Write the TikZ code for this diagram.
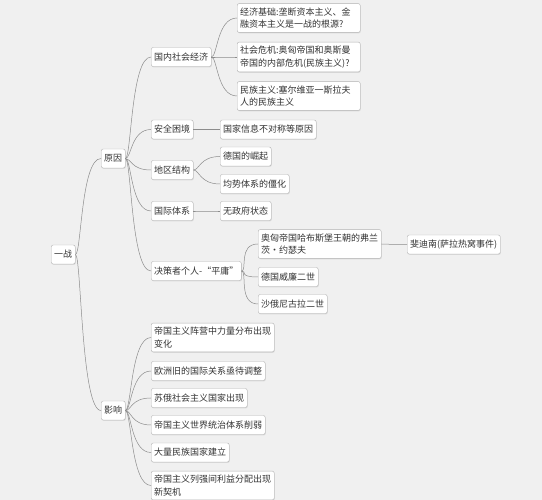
\documentclass[tikz,border=0pt]{standalone}
\usepackage{fontspec}
\setmainfont{Noto Sans CJK SC}
\usetikzlibrary{shadows}
\definecolor{bgcol}{RGB}{240,240,240}

\begin{document}
\begin{tikzpicture}[x=1pt,y=-1pt,
    box/.style={draw=black!30,fill=white,rounded corners=2pt,anchor=west,
      inner xsep=3pt,inner ysep=4pt,minimum height=19pt,align=left,
      font=\fontsize{9}{12.5}\selectfont,text=black!80,
      drop shadow={opacity=0.18,shadow xshift=0.6pt,shadow yshift=-0.9pt}},
    wide/.style={box,text width=117pt},
    link/.style={draw=black!45,line width=0.5pt,
      to path={.. controls +(6,0) and +(-20,0) .. (\tikztotarget)}}]
  \fill[bgcol] (0,0) rectangle (542,500);
  \useasboundingbox (0,0) rectangle (542,500);

  % root and main branches
  \node[box] (war) at (51,254.5) {一战};
  \node[box] (cause) at (101,158.5) {原因};
  \node[box] (effect) at (101,410.5) {影响};

  % causes
  \node[box] (domestic) at (151,57) {国内社会经济};
  \node[box] (security) at (151,129.5) {安全困境};
  \node[box] (region) at (151,170) {地区结构};
  \node[box] (system) at (151,211) {国际体系};
  \node[box] (leader) at (151,271) {决策者个人-“平庸”};

  \node[wide] (econ) at (237,18) {经济基础:垄断资本主义、金\\融资本主义是一战的根源?};
  \node[wide] (crisis) at (237,57) {社会危机:奥匈帝国和奥斯曼\\帝国的内部危机(民族主义)?};
  \node[wide] (nation) at (237,96) {民族主义:塞尔维亚一斯拉夫\\人的民族主义};
  \node[box] (info) at (220,129.5) {国家信息不对称等原因};
  \node[box] (rise) at (220,156.5) {德国的崛起};
  \node[box] (balance) at (220,184) {均势体系的僵化};
  \node[box] (anarchy) at (220,211) {无政府状态};
  \node[wide] (franz) at (258,244) {奥匈帝国哈布斯堡王朝的弗兰\\茨・约瑟夫};
  \node[box] (ferdi) at (407,244.5) {斐迪南(萨拉热窝事件)};
  \node[box] (wilhelm) at (258,277) {德国威廉二世};
  \node[box] (nicholas) at (258,304) {沙俄尼古拉二世};

  % effects
  \node[wide] (shift) at (151,337.5) {帝国主义阵营中力量分布出现\\变化};
  \node[box] (adjust) at (151,371) {欧洲旧的国际关系亟待调整};
  \node[box] (soviet) at (151,398) {苏俄社会主义国家出现};
  \node[box] (weaken) at (151,425) {帝国主义世界统治体系削弱};
  \node[box] (states) at (151,452.5) {大量民族国家建立};
  \node[wide] (chance) at (151,485.5) {帝国主义列强间利益分配出现\\新契机};

  \foreach \a/\b in {war/cause,war/effect,
      cause/domestic,cause/security,cause/region,cause/system,cause/leader,
      domestic/econ,domestic/crisis,domestic/nation,security/info,
      region/rise,region/balance,system/anarchy,
      leader/franz,leader/wilhelm,leader/nicholas,franz/ferdi,
      effect/shift,effect/adjust,effect/soviet,effect/weaken,
      effect/states,effect/chance}
    \draw[link] (\a.east) to (\b.west);
\end{tikzpicture}
\end{document}
